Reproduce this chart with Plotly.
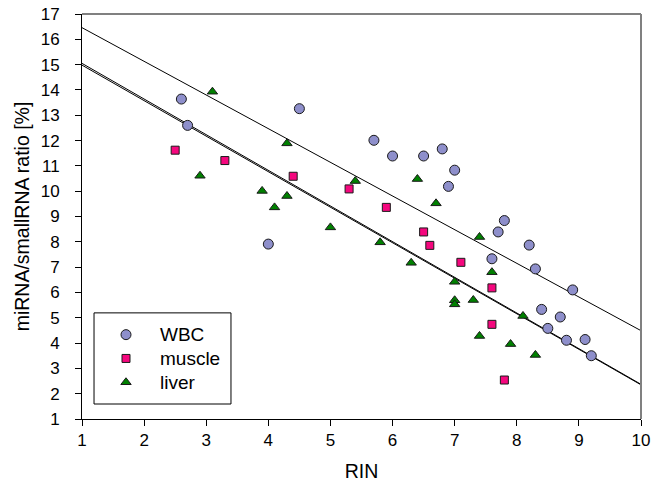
import numpy as np
import plotly.graph_objects as go

# ---- data ----
wbc_x = [2.6, 2.7, 4.5, 4.0, 5.7, 6.0, 6.5, 6.8, 7.0, 6.9, 7.8, 7.7, 8.2, 7.6, 8.3, 8.9, 8.4, 8.7, 8.5, 8.8, 9.1, 9.2]
wbc_y = [13.64, 12.6, 13.26, 7.91, 12.01, 11.39, 11.39, 11.67, 10.83, 10.19, 8.84, 8.39, 7.87, 7.33, 6.93, 6.10, 5.33, 5.03, 4.58, 4.11, 4.14, 3.50]

muscle_x = [2.5, 3.3, 4.4, 5.3, 5.9, 6.5, 6.6, 7.1, 7.6, 7.6, 7.8]
muscle_y = [11.62, 11.21, 10.59, 10.09, 9.36, 8.39, 7.86, 7.19, 6.18, 4.74, 2.54]

liver_x = [3.1, 2.9, 4.3, 3.9, 4.3, 4.1, 5.4, 5.0, 6.4, 6.7, 5.8, 6.3, 7.4, 7.6, 7.0, 7.0, 7.0, 7.3, 8.1, 7.4, 7.9, 8.3]
liver_y = [13.93, 10.61, 11.89, 10.01, 9.81, 9.36, 10.40, 8.57, 10.48, 9.52, 7.98, 7.17, 8.19, 6.80, 6.42, 5.69, 5.53, 5.70, 5.07, 4.28, 3.96, 3.53]

# regression lines (value at RIN=1 and RIN=10)
fit_x = [1, 10]
wbc_fit = [16.46, 4.49]
muscle_fit = [15.05, 2.37]
liver_fit = [14.98, 2.35]

x_ticks = list(range(1, 11))
y_ticks = list(range(1, 18))

series_names = ["WBC", "muscle", "liver"]

FONT = "Liberation Sans, Arial, sans-serif"


def legend_label(name):
    return '<span style="font-size:19px">' + name + "</span>"


fig = go.Figure()

for fy in (wbc_fit, muscle_fit, liver_fit):
    fig.add_trace(go.Scatter(x=fit_x, y=fy, mode="lines", showlegend=False,
                             line=dict(color="black", width=1), hoverinfo="skip"))

fig.add_trace(go.Scatter(x=wbc_x, y=wbc_y, mode="markers", name=legend_label(series_names[0]),
                         marker=dict(symbol="circle", size=10, color="#8E8FCB",
                                     line=dict(color="#1a1a1a", width=1))))
fig.add_trace(go.Scatter(x=muscle_x, y=muscle_y, mode="markers", name=legend_label(series_names[1]),
                         marker=dict(symbol="square", size=8, color="#F5077E",
                                     line=dict(color="#1a1a1a", width=1))))
fig.add_trace(go.Scatter(x=liver_x, y=liver_y, mode="markers", name=legend_label(series_names[2]),
                         marker=dict(symbol="triangle-up", size=9, color="#008000",
                                     line=dict(color="#1a1a1a", width=1))))

# plot frame (top/right in grey)
fig.add_shape(type="line", xref="paper", yref="paper", x0=0, x1=1, y0=1, y1=1,
              line=dict(color="#808080", width=2))
fig.add_shape(type="line", xref="paper", yref="paper", x0=1, x1=1, y0=0, y1=1,
              line=dict(color="#808080", width=2))
# legend box
fig.add_shape(type="rect", xref="paper", yref="paper", x0=0.0215, x1=0.2665,
              y0=0.037, y1=0.262, line=dict(color="black", width=1),
              fillcolor="rgba(0,0,0,0)")

fig.update_layout(
    width=656, height=486,
    margin=dict(l=82, r=15, t=14, b=67),
    paper_bgcolor="white", plot_bgcolor="white",
    font=dict(family=FONT, size=17, color="black"),
    legend=dict(x=0.0179, y=0.25, xanchor="left", yanchor="top",
                bgcolor="rgba(0,0,0,0)", borderwidth=0,
                font=dict(family=FONT, size=16), itemwidth=58),
    xaxis=dict(range=[1, 10], tickvals=x_ticks, showgrid=False, zeroline=False,
               showline=True, linecolor="black", linewidth=1, automargin=False,
               ticks="outside", ticklen=6, tickcolor="black",
               tickfont=dict(size=17),
               title=dict(text="RIN", font=dict(size=19.5), standoff=14)),
    yaxis=dict(range=[1, 17], tickvals=y_ticks, showgrid=False, zeroline=False,
               showline=True, linecolor="black", linewidth=1, automargin=False,
               ticks="outside", ticklen=6, tickcolor="black",
               tickfont=dict(size=17), ticklabelstandoff=12,
               title=dict(text="miRNA/smallRNA ratio [%]", font=dict(size=19.5), standoff=5)),
)

# remove the browser's default 8px body margin so the figure fills the window
fig.write_html("out.html", config={"displayModeBar": False},
               post_script="document.body.style.margin='0';")
